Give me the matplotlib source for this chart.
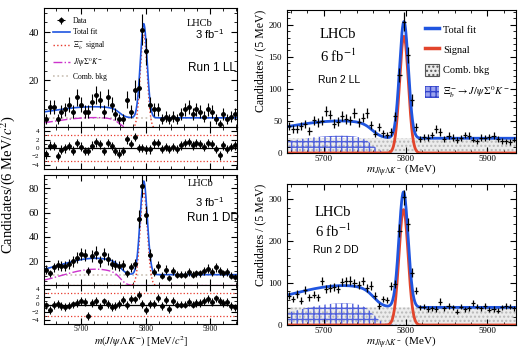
import numpy as np
import matplotlib.pyplot as plt
from matplotlib.lines import Line2D
from matplotlib.patches import Patch
from matplotlib.ticker import AutoMinorLocator

plt.rcParams["mathtext.fontset"] = "stix"
plt.rcParams["font.family"] = ["Liberation Serif", "DejaVu Serif"]

W, H = 522, 349

# Run 1: 6 MeV bins, 5642 - 5942
run1_lo, run1_bin = 5642, 6
run1_ll = [4, 9, 9, 4, 7, 8, 10, 7, 13, 10, 7, 7, 11, 14, 12, 7, 13, 10, 6, 4,
           4, 12, 7, 16, 17, 41, 32, 10, 8, 8, 4, 5, 4, 5, 4, 6, 8, 9, 6, 8,
           7, 5, 8, 7, 4, 2, 6, 4, 5, 6]
run1_dd = [13, 10, 15, 17, 16, 16, 18, 20, 23, 26, 25, 12, 24, 27, 20, 26, 22, 18, 17, 16,
           17, 10, 15, 18, 55, 82, 58, 25, 11, 16, 8, 13, 6, 12, 9, 9, 9, 11, 9, 10,
           10, 12, 14, 11, 15, 12, 10, 11, 8, 7]

# Run 2: 5 MeV bins, 5655 - 5935
run2_lo, run2_bin = 5655, 5
run2_ll = [42, 37, 37, 42, 45, 34, 51, 48, 50, 65, 60, 46, 49, 58, 53, 51, 62, 48, 55, 63,
           44, 30, 40, 31, 28, 33, 57, 122, 205, 153, 83, 40, 22, 25, 24, 28, 37, 33, 22, 27,
           24, 20, 23, 28, 27, 21, 18, 24, 23, 25, 27, 22, 19, 18, 17, 21]
run2_dd = [70, 62, 74, 58, 84, 66, 72, 66, 105, 86, 88, 90, 86, 102, 104, 106, 100, 95, 105, 88,
           94, 70, 46, 62, 60, 92, 98, 225, 304, 240, 125, 82, 42, 44, 38, 40, 38, 56, 40, 45,
           42, 32, 44, 37, 40, 52, 44, 40, 45, 36, 38, 34, 42, 46, 44, 40]

# fit components: signal (peak, mean, sigma), comb. bkg level,
# partially reconstructed (peak, mean, width, cut-off, cut-off width)
sig_r1ll, comb_r1ll, part_r1ll = (39, 5797, 5.3), 4.5, (4.6, 5720, 70, 5760, 5)
sig_r1dd, comb_r1dd, part_r1dd = (77, 5797, 5.6), 9.0, (13.5, 5722, 54, 5762, 5)
sig_r2ll, comb_r2ll, part_r2ll = (182, 5798, 5.4), 23.0, (27, 5722, 75, 5760, 6)
sig_r2dd, comb_r2dd, part_r2dd = (275, 5797.5, 5.6), 42.0, (52, 5725, 65, 5762, 6)

BLUE = "#1f55e0"
RED_R1 = "#e8382a"
RED_R2 = "#e2452c"
MAGENTA = "#cc33cc"


def signal(m, p):
    a, mu, s = p
    return a * np.exp(-0.5 * ((m - mu) / s) ** 2)


def part_reco(m, p):
    a, mu, w, cut, cw = p
    return a * np.exp(-0.5 * ((m - mu) / w) ** 2) / (1 + np.exp((m - cut) / cw))


def box(x0, y0, x1, y1):
    return [x0 / W, 1 - y1 / H, (x1 - x0) / W, (y1 - y0) / H]


def style(ax, size):
    ax.tick_params(which="both", direction="in", top=True, right=True, labelsize=size)
    ax.tick_params(which="major", length=4)
    ax.tick_params(which="minor", length=2)
    ax.xaxis.set_minor_locator(AutoMinorLocator(5))
    ax.yaxis.set_minor_locator(AutoMinorLocator(5))


fig = plt.figure(figsize=(W / 100, H / 100), dpi=100)


def ptext(x, y, s, **kw):
    fig.text(x / W, 1 - y / H, s, **kw)


def run1_panel(main_box, res_box, data, sp, comb, pp, ylim, yticks, last):
    n = np.array(data, dtype=float)
    centers = run1_lo + run1_bin * (np.arange(len(n)) + 0.5)
    hi = run1_lo + run1_bin * len(n)
    m = np.linspace(run1_lo, hi, 800)
    ax = fig.add_axes(box(*main_box))
    style(ax, 7.5)
    ax.plot(m, np.full_like(m, comb), color="#c9c0b4", ls=":", lw=1.2, label="Comb. bkg")
    ax.plot(m, part_reco(m, pp), color=MAGENTA, ls="-.", lw=1.0, label=r"$J/\psi\,\Sigma^0K^{-}$")
    ax.plot(m, signal(m, sp), color=RED_R1, ls=":", lw=1.0, label=r"$\Xi_b^-$ signal")
    total = lambda x: signal(x, sp) + part_reco(x, pp) + comb
    ax.plot(m, total(m), color=BLUE, lw=1.2, label="Total fit")
    err = np.sqrt(np.maximum(n, 1))
    ax.errorbar(centers, n, yerr=err, xerr=run1_bin / 2, fmt="o", ms=2.5, color="k",
                elinewidth=0.8, capsize=0, label="Data")
    ax.set_xlim(run1_lo, hi)
    ax.set_xticks([5700, 5800, 5900])
    ax.set_ylim(*ylim)
    ax.set_yticks(yticks)
    ax.tick_params(labelbottom=False)

    rx = fig.add_axes(box(*res_box))
    style(rx, 5)
    pull = (n - total(centers)) / err
    rx.axhline(0, color="k", lw=0.9)
    rx.axhline(3, color=RED_R1, ls=":", lw=0.9)
    rx.axhline(-3, color=RED_R1, ls=":", lw=0.9)
    rx.errorbar(centers, pull, yerr=1, xerr=run1_bin / 2, fmt="o", ms=2.5, color="k",
                elinewidth=0.8, capsize=0)
    rx.set_xlim(run1_lo, hi)
    rx.set_xticks([5700, 5800, 5900])
    rx.set_ylim(-5, 5)
    rx.set_yticks([-4, -2, 0, 2, 4])
    rx.yaxis.set_minor_locator(AutoMinorLocator(2))
    rx.tick_params(axis="x", labelsize=5.5, labelbottom=last, pad=0.5)
    return ax


def run2_panel(main_box, data, sp, comb, pp, ylim, yticks):
    n = np.array(data, dtype=float)
    centers = run2_lo + run2_bin * (np.arange(len(n)) + 0.5)
    hi = run2_lo + run2_bin * len(n)
    m = np.linspace(run2_lo, hi, 800)
    ax = fig.add_axes(box(*main_box))
    style(ax, 6.5)
    ax.fill_between(m, 0, comb, facecolor="#ececec", edgecolor="#b8b8b8", hatch="....", lw=0)
    ax.fill_between(m, 0, part_reco(m, pp), facecolor="none", edgecolor="#5060dc",
                    hatch="+++", lw=0)
    ax.plot(m, signal(m, sp), color=RED_R2, lw=2.0)
    ax.plot(m, signal(m, sp) + part_reco(m, pp) + comb, color=BLUE, lw=2.0)
    ax.errorbar(centers, n, yerr=np.sqrt(n), xerr=run2_bin / 2, fmt="none", color="k",
                elinewidth=0.9, capsize=0)
    ax.set_xlim(run2_lo, hi)
    ax.set_ylim(*ylim)
    ax.set_yticks(yticks)
    ax.set_xticks([5700, 5800, 5900])
    ax.tick_params(axis="x", pad=1.5)
    ax.set_ylabel("Candidates / (5 MeV)", fontsize=8.5, loc="top", labelpad=2)
    ax.set_xlabel(r"$m_{J/\psi\Lambda K^-}$ (MeV)", fontsize=8, labelpad=-1)
    return ax


# Run 1 LL
ax = run1_panel((44, 8, 237, 127), (44, 127, 237, 169), run1_ll, sig_r1ll, comb_r1ll,
                part_r1ll, (0.7, 50), [20, 40], False)
h, l = ax.get_legend_handles_labels()
order = [4, 3, 2, 1, 0]
ax.legend([h[i] for i in order], [l[i] for i in order], loc="upper left",
          bbox_to_anchor=(0.03, 0.95), frameon=False, fontsize=5.5, handlelength=2.2,
          labelspacing=0.45, handletextpad=0.4, borderaxespad=0)

# Run 1 DD
run1_panel((44, 175, 237, 285), (44, 285, 237, 324), run1_dd, sig_r1dd, comb_r1dd,
           part_r1dd, (0.5, 91), [20, 40, 60, 80], True)

ptext(8, 185, r"Candidates/(6 MeV/$c^2$)", rotation=90, ha="center", va="center", fontsize=10.5)
ptext(141, 349, r"$m(J/\psi\,\Lambda K^{-})$ [MeV/$c^2$]", ha="center", va="bottom", fontsize=7.5)

ptext(187, 23, "LHCb", ha="left", va="center", fontsize=7.5)
ptext(195, 34, r"3 fb$^{\mathregular{-1}}$", ha="left", va="center", fontsize=8,
      family="Liberation Sans")
ptext(188, 68, "Run 1 LL", ha="left", va="center", fontsize=8.5, family="Liberation Sans")
ptext(188, 184, "LHCb", ha="left", va="center", fontsize=7.5)
ptext(195, 202, r"3 fb$^{\mathregular{-1}}$", ha="left", va="center", fontsize=8,
      family="Liberation Sans")
ptext(187, 218, "Run 1 DD", ha="left", va="center", fontsize=8.5, family="Liberation Sans")

# Run 2 LL / DD
run2_panel((287, 10, 516, 153), run2_ll, sig_r2ll, comb_r2ll, part_r2ll, (0, 223),
           [0, 50, 100, 150, 200])
run2_panel((287, 184, 516, 325), run2_dd, sig_r2dd, comb_r2dd, part_r2dd, (0, 336),
           [0, 100, 200, 300])

ptext(320, 35, "LHCb", ha="left", va="center", fontsize=10.5)
ptext(320, 56, r"6 fb$^{-1}$", ha="left", va="center", fontsize=10.5)
ptext(318, 80, "Run 2 LL", ha="left", va="center", fontsize=7.5, family="Liberation Sans")
ptext(315, 212, "LHCb", ha="left", va="center", fontsize=10.5)
ptext(315, 231, r"6 fb$^{-1}$", ha="left", va="center", fontsize=10.5)
ptext(313, 250, "Run 2 DD", ha="left", va="center", fontsize=7.5, family="Liberation Sans")

handles = [Line2D([], [], color=BLUE, lw=2.5), Line2D([], [], color=RED_R2, lw=2.5),
           Patch(facecolor="#ececec", edgecolor="#555555", hatch="....", lw=0.8),
           Patch(facecolor="#9aa2ee", edgecolor="#3344cc", hatch="+++", lw=0)]
labels = ["Total fit", "Signal", "Comb. bkg", r"$\Xi_b^-\!\to J/\psi\,\Sigma^0K^-$"]
fig.legend(handles, labels, loc="upper left", bbox_to_anchor=(421 / W, 1 - 19 / H),
           frameon=False, fontsize=7.5, handlelength=1.3, handleheight=1.4,
           labelspacing=0.8, handletextpad=0.4, borderaxespad=0)

fig.savefig("out.png", dpi=100)
